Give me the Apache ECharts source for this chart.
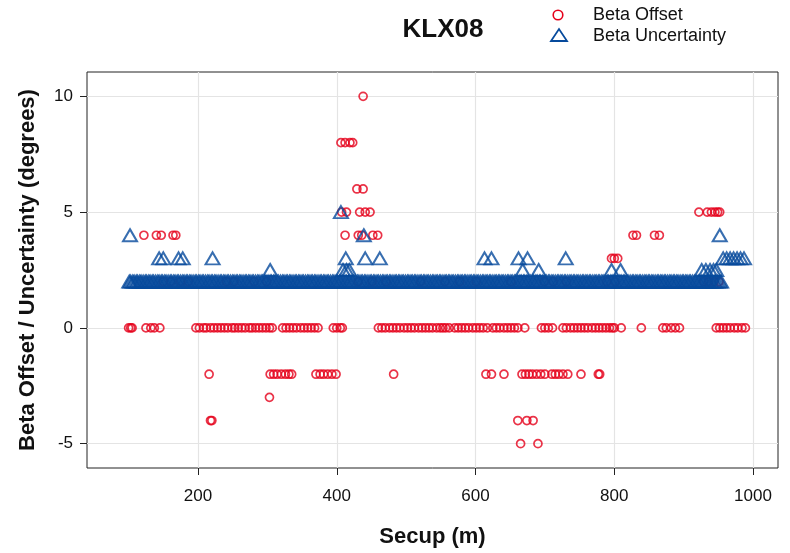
<!DOCTYPE html>
<html>
<head>
<meta charset="utf-8">
<title>KLX08</title>
<script src="https://cdn.jsdelivr.net/npm/echarts@6/dist/echarts.min.js"></script>
<style>
  html, body { margin: 0; padding: 0; background: #ffffff; }
  #chart { width: 790px; height: 553px; }
</style>
</head>
<body>
<div id="chart"></div>
<script>
// Axis ticks
const xTicks = [200, 400, 600, 800, 1000];
const yTicks = [-5, 0, 5, 10];

// Beta Offset (degrees): Secup positions (m) grouped by offset value
const offsetAt10 = [438];
const offsetAt8 = [406, 412, 419, 423];
const offsetAt6 = [429, 438];
const offsetAt5 = [407, 414, 433, 441, 448, 922, 934, 940, 945, 949, 952];
const offsetAt4 = [122, 140, 147, 164, 168, 412, 431, 436, 452, 459, 827, 832, 858, 865];
const offsetAt3 = [796, 800, 805];
const offsetAt2 = [150, 161, 175, 186, 241, 252, 281, 299, 431, 451, 471, 521, 556, 577, 601, 651, 699, 712, 731, 789, 801, 929, 936, 944, 951];
const offsetAt0 = [100, 103, 105, 125, 132, 137, 145,
  197, 202, 208, 212, 218, 223, 228, 233, 238, 243, 249, 253, 258, 263, 268, 274, 278, 283, 288, 293, 298, 303, 307,
  322, 327, 332, 337, 342, 348, 353, 358, 363, 368, 373,
  395, 400, 405, 408,
  460, 465, 470, 476, 481, 486, 491, 497, 502, 507, 512, 518, 523, 528, 533, 538, 544, 549, 553, 557, 562,
  570, 575, 580, 585, 590, 596, 601, 606, 611, 617,
  625, 630, 635, 641, 646, 651, 656, 661, 671,
  695, 700, 705, 711,
  726, 731, 737, 742, 747, 752, 757, 762, 768, 773, 778, 783, 788, 793, 797, 800,
  810, 839, 870, 875, 882, 888, 894,
  947, 952, 957, 962, 967, 973, 978, 984, 989];
const offsetAtMinus2 = [216, 304, 309, 314, 320, 326, 331, 335, 370, 376, 381, 387, 393, 399, 482,
  615, 623, 641, 667, 672, 677, 682, 688, 694, 700, 710, 715, 720, 726, 733, 752, 777, 779];
const offsetAtMinus3 = [303];
const offsetAtMinus4 = [218, 220, 661, 674, 683];
const offsetAtMinus5 = [665, 690];

// Beta Uncertainty (degrees): Secup positions (m) grouped by uncertainty value
const uncAt5 = [406];
const uncAt4 = [102, 439, 952];
const uncAt3 = [144, 150, 172, 178, 221, 413, 441, 462, 613, 623, 662, 675, 730, 957, 962, 967, 972, 977, 982, 987];
const uncAt25 = [304, 409, 414, 418, 668, 691, 796, 809, 926, 932, 938, 943, 947];
const uncAt2 = [101, 103, 106, 108, 111, 113, 116, 118, 121, 124, 126, 129, 131, 134, 136, 139, 142, 144, 147, 149,
  152, 154, 157, 160, 162, 165, 167, 170, 172, 175, 178, 180, 183, 185, 188, 190, 193, 196, 198, 201,
  203, 206, 208, 211, 214, 216, 219, 221, 224, 226, 229, 232, 234, 237, 239, 242, 244, 247, 250, 252,
  255, 257, 260, 262, 265, 268, 270, 273, 275, 278, 280, 283, 286, 288, 291, 293, 296, 298, 301, 304,
  306, 309, 311, 314, 316, 319, 322, 324, 327, 329, 332, 334, 337, 340, 342, 345, 347, 350, 352, 355,
  358, 360, 363, 365, 368, 370, 373, 376, 378, 381, 383, 386, 388, 391, 394, 396, 399, 401, 404, 406,
  409, 412, 414, 417, 419, 422, 424, 427, 430, 432, 435, 437, 440, 442, 445, 448, 450, 453, 455, 458,
  460, 463, 466, 468, 471, 473, 476, 478, 481, 484, 486, 489, 491, 494, 496, 499, 502, 504, 507, 509,
  512, 514, 517, 520, 522, 525, 527, 530, 532, 535, 538, 540, 543, 545, 548, 550, 553, 556, 558, 561,
  563, 566, 568, 571, 574, 576, 579, 581, 584, 586, 589, 592, 594, 597, 599, 602, 604, 607, 610, 612,
  615, 617, 620, 622, 625, 628, 630, 633, 635, 638, 640, 643, 646, 648, 651, 653, 656, 658, 661, 664,
  666, 669, 671, 674, 676, 679, 682, 684, 687, 689, 692, 694, 697, 700, 702, 705, 707, 710, 712, 715,
  718, 720, 723, 725, 728, 730, 733, 736, 738, 741, 743, 746, 748, 751, 754, 756, 759, 761, 764, 766,
  769, 772, 774, 777, 779, 782, 784, 787, 790, 792, 795, 797, 800, 802, 805, 808, 810, 813, 815, 818,
  820, 823, 826, 828, 831, 833, 836, 838, 841, 844, 846, 849, 851, 854, 856, 859, 862, 864, 867, 869,
  872, 874, 877, 880, 882, 885, 887, 890, 892, 895, 898, 900, 903, 905, 908, 910, 913, 916, 918, 921,
  923, 926, 928, 931, 934, 936, 939, 941, 944, 946, 949, 952, 954];

const RED = '#e5001a';
const BLUE = '#064a9c';

function pairs(secups, value) {
  return secups.map(s => [s, value]);
}

const offsetData = [].concat(
  pairs(offsetAt10, 10), pairs(offsetAt8, 8), pairs(offsetAt6, 6), pairs(offsetAt5, 5),
  pairs(offsetAt4, 4), pairs(offsetAt3, 3), pairs(offsetAt2, 2), pairs(offsetAt0, 0),
  pairs(offsetAtMinus2, -2), pairs(offsetAtMinus3, -3), pairs(offsetAtMinus4, -4), pairs(offsetAtMinus5, -5)
);
const uncData = [].concat(
  pairs(uncAt2, 2), pairs(uncAt25, 2.5), pairs(uncAt3, 3), pairs(uncAt4, 4), pairs(uncAt5, 5)
);

const chart = echarts.init(document.getElementById('chart'), null, { renderer: 'canvas' });

const tickFont = { fontFamily: 'Liberation Sans', fontSize: 17, color: '#111' };
const nameFont = { fontFamily: 'Liberation Sans', fontSize: 22, fontWeight: 'bold', color: '#111' };

chart.setOption({
  animation: false,
  backgroundColor: '#ffffff',
  title: {
    text: 'KLX08',
    left: 438,
    top: 12,
    textAlign: 'center',
    textStyle: { fontFamily: 'Liberation Sans', fontSize: 26, fontWeight: 'bold', color: '#111' }
  },
  grid: { left: 87, right: 12, top: 72, bottom: 85, show: true, borderColor: '#222', borderWidth: 1 },
  xAxis: {
    type: 'value',
    min: 40,
    max: 1036,
    name: 'Secup (m)',
    nameLocation: 'middle',
    nameGap: 58,
    nameTextStyle: nameFont,
    axisLine: { show: false, onZero: false },
    axisTick: { show: true, inside: false, length: 7, lineStyle: { color: '#222' }, customValues: xTicks },
    axisLabel: Object.assign({ margin: 20, customValues: xTicks, formatter: v => String(v) }, tickFont),
    splitLine: { show: true, lineStyle: { color: '#e4e4e4', width: 1.2 } }
  },
  yAxis: {
    type: 'value',
    min: -6.05,
    max: 11.05,
    name: 'Beta Offset / Uncertainty (degrees)',
    nameLocation: 'middle',
    nameGap: 48,
    nameTextStyle: nameFont,
    axisLine: { show: false, onZero: false },
    axisTick: { show: true, inside: false, length: 7, lineStyle: { color: '#222' }, customValues: yTicks },
    axisLabel: Object.assign({ margin: 14, customValues: yTicks, formatter: v => String(v) }, tickFont),
    splitLine: { show: true, lineStyle: { color: '#e4e4e4', width: 1.2 } }
  },
  series: [
    {
      name: 'Beta Offset',
      type: 'scatter',
      data: offsetData,
      symbol: 'circle',
      symbolSize: 8,
      itemStyle: { color: 'rgba(0,0,0,0)', borderColor: RED, borderWidth: 1.7 },
      emphasis: { disabled: true },
      z: 2
    },
    {
      name: 'Beta Uncertainty',
      type: 'scatter',
      data: uncData,
      symbol: 'triangle',
      symbolSize: [14, 12],
      itemStyle: { color: 'rgba(0,0,0,0)', borderColor: BLUE, borderWidth: 2 },
      emphasis: { disabled: true },
      z: 3
    }
  ],
  graphic: [
    { type: 'circle', shape: { cx: 558, cy: 15, r: 4.8 }, style: { fill: 'none', stroke: RED, lineWidth: 1.6 } },
    { type: 'text', left: 593, top: 6, style: { text: 'Beta Offset', fontFamily: 'Liberation Sans', fontSize: 18, fill: '#111' } },
    { type: 'polygon', shape: { points: [[551, 41], [567, 41], [559, 29]] }, style: { fill: 'none', stroke: BLUE, lineWidth: 1.8 } },
    { type: 'text', left: 593, top: 27, style: { text: 'Beta Uncertainty', fontFamily: 'Liberation Sans', fontSize: 18, fill: '#111' } }
  ]
});
</script>
</body>
</html>
